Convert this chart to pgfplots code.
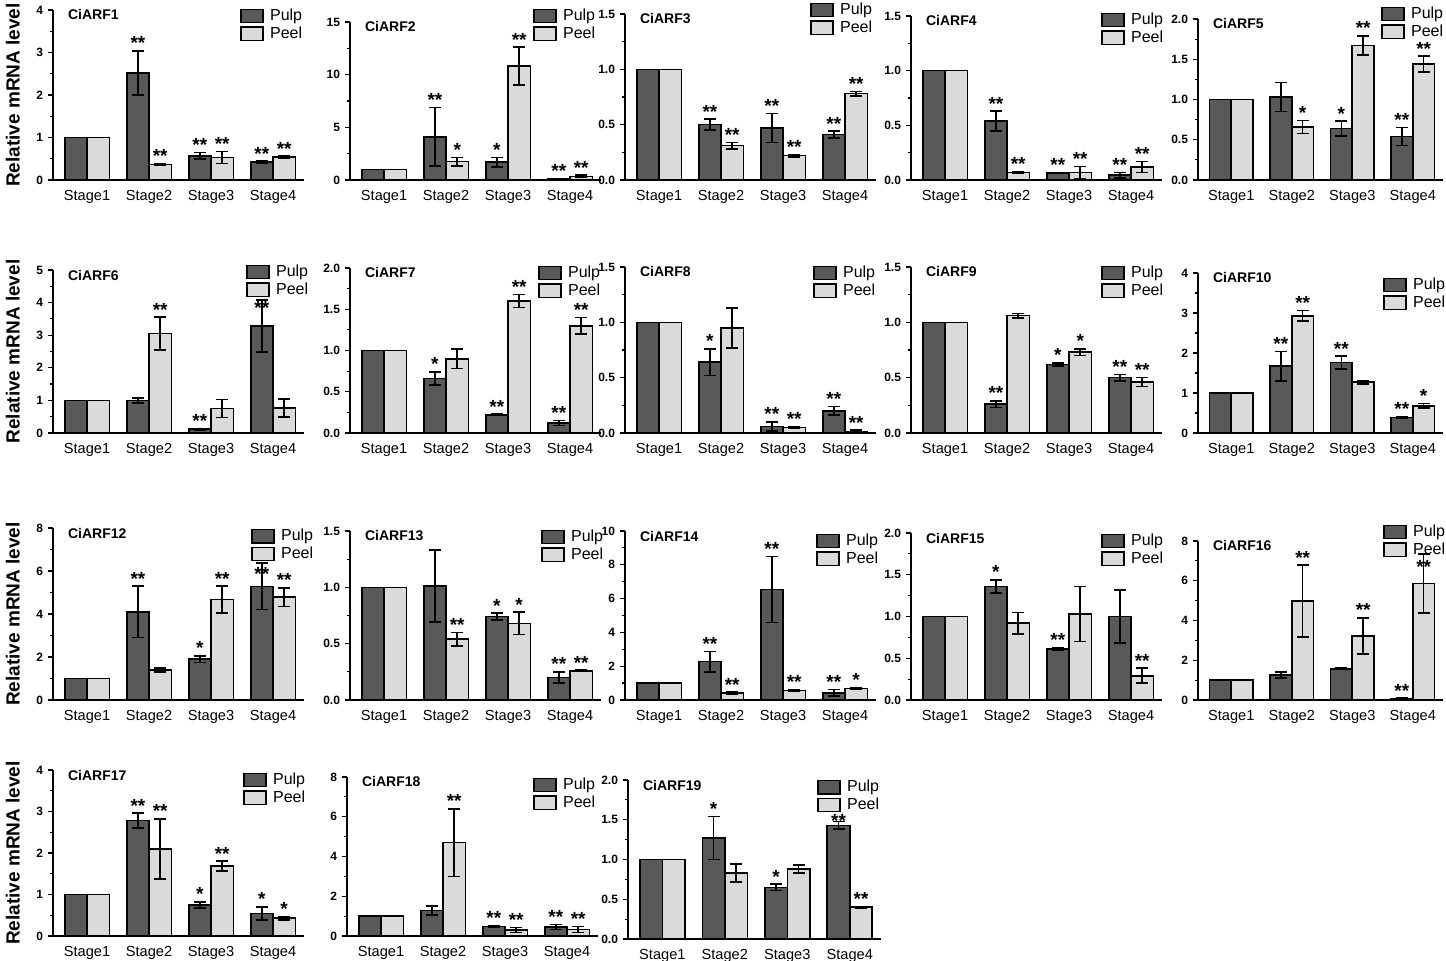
\documentclass[border=0pt]{standalone}
\usepackage{fontspec}
\setmainfont{Liberation Sans}
\setsansfont{Liberation Sans}
\usepackage{pgfplots}
\usepackage{pgfplotstable}
\pgfplotsset{compat=1.18}
\definecolor{pulp}{RGB}{89,89,89}
\definecolor{peel}{RGB}{218,218,218}

% columns: x, pulp, pulp err, peel, peel err, pulp stars, peel stars, star offsets
\pgfplotstableread{
x p pe q qe sp sq dp dq
0 1 0 1 0 {} {} 0 0
1 2.52 0.52 0.36 0.02 ** ** 0 0
2 0.57 0.08 0.53 0.14 ** ** 0 0
3 0.42 0.02 0.54 0.02 ** ** 0 0
}\tA
\pgfplotstableread{
x p pe q qe sp sq dp dq
0 1 0 1 0 {} {} 0 0
1 4.1 2.8 1.75 0.4 ** * 0 0
2 1.7 0.45 10.8 1.8 * ** 0 0
3 0.1 0.02 0.35 0.1 ** ** 0 0
}\tB
\pgfplotstableread{
x p pe q qe sp sq dp dq
0 1 0 1 0 {} {} 0 0
1 0.50 0.05 0.31 0.03 ** ** 0 0
2 0.47 0.13 0.22 0.01 ** ** 0 0
3 0.41 0.03 0.78 0.02 ** ** 0 0
}\tC
\pgfplotstableread{
x p pe q qe sp sq dp dq
0 1 0 1 0 {} {} 0 0
1 0.54 0.09 0.07 0.005 ** ** 0 0
2 0.065 0.005 0.07 0.055 ** ** 0 0
3 0.045 0.025 0.12 0.05 ** ** 0 0
}\tD
\pgfplotstableread{
x p pe q qe sp sq dp dq
0 1 0 1 0 {} {} 0 0
1 1.03 0.18 0.66 0.08 {} * 0 0
2 0.64 0.09 1.67 0.12 * ** 0 0
3 0.54 0.11 1.44 0.10 ** ** 0 0
}\tE
\pgfplotstableread{
x p pe q qe sp sq dp dq
0 1 0 1 0 {} {} 0 0
1 1.0 0.08 3.05 0.5 {} ** 0 0
2 0.12 0.02 0.75 0.28 ** {} 0 0
3 3.28 0.8 0.77 0.28 ** {} -0.49 0
}\tF
\pgfplotstableread{
x p pe q qe sp sq dp dq
0 1 0 1 0 {} {} 0 0
1 0.66 0.08 0.9 0.12 * {} 0 0
2 0.22 0.01 1.6 0.08 ** ** 0 0
3 0.12 0.03 1.3 0.10 ** ** 0 0
}\tG
\pgfplotstableread{
x p pe q qe sp sq dp dq
0 1 0 1 0 {} {} 0 0
1 0.64 0.12 0.95 0.18 * {} 0 0
2 0.06 0.04 0.05 0.01 ** ** 0 0
3 0.20 0.04 0.015 0.01 ** ** 0 0
}\tH
\pgfplotstableread{
x p pe q qe sp sq dp dq
0 1 0 1 0 {} {} 0 0
1 0.26 0.03 1.06 0.02 ** {} 0 0
2 0.62 0.015 0.73 0.03 * * 0 0
3 0.50 0.03 0.46 0.04 ** ** 0 0
}\tI
\pgfplotstableread{
x p pe q qe sp sq dp dq
0 1 0 1 0 {} {} 0 0
1 1.67 0.37 2.93 0.13 ** ** 0 0
2 1.76 0.16 1.27 0.04 ** {} 0 0
3 0.39 0.02 0.68 0.06 ** * 0 0
}\tJ
\pgfplotstableread{
x p pe q qe sp sq dp dq
0 1 0 1 0 {} {} 0 0
1 4.1 1.2 1.4 0.1 ** {} 0 0
2 1.9 0.15 4.68 0.62 * ** 0 0
3 5.28 1.08 4.78 0.44 ** ** -0.83 0
}\tK
\pgfplotstableread{
x p pe q qe sp sq dp dq
0 1 0 1 0 {} {} 0 0
1 1.01 0.32 0.54 0.06 {} ** 0 0
2 0.74 0.03 0.68 0.10 * * 0 0
3 0.20 0.05 0.26 0.005 ** ** 0 0
}\tL
\pgfplotstableread{
x p pe q qe sp sq dp dq
0 1 0 1 0 {} {} 0 0
1 2.27 0.6 0.4 0.07 ** ** 0 0
2 6.53 1.95 0.57 0.05 ** ** 0 0
3 0.42 0.2 0.68 0.03 ** * 0 0
}\tM
\pgfplotstableread{
x p pe q qe sp sq dp dq
0 1 0 1 0 {} {} 0 0
1 1.36 0.08 0.92 0.13 * {} 0 0
2 0.61 0.015 1.03 0.33 ** {} 0 0
3 1.0 0.32 0.29 0.09 {} ** 0 0
}\tN
\pgfplotstableread{
x p pe q qe sp sq dp dq
0 1 0 1 0 {} {} 0 0
1 1.25 0.15 4.98 1.8 {} ** 0 0
2 1.57 0.03 3.22 0.92 {} ** 0 0
3 0.07 0.03 5.86 1.48 ** ** 0 -1.05
}\tO
\pgfplotstableread{
x p pe q qe sp sq dp dq
0 1 0 1 0 {} {} 0 0
1 2.78 0.18 2.1 0.72 ** ** 0 0
2 0.75 0.07 1.68 0.12 * ** 0 0
3 0.54 0.16 0.43 0.04 * * 0 0
}\tP
\pgfplotstableread{
x p pe q qe sp sq dp dq
0 1 0 1 0 {} {} 0 0
1 1.28 0.22 4.7 1.7 {} ** 0 0
2 0.48 0.03 0.3 0.12 ** ** 0 0
3 0.45 0.12 0.32 0.15 ** ** 0 0
}\tQ
\pgfplotstableread{
x p pe q qe sp sq dp dq
0 1 0 1 0 {} {} 0 0
1 1.27 0.27 0.83 0.11 * {} 0 0
2 0.65 0.04 0.88 0.05 * {} 0 0
3 1.43 0.05 0.40 0.01 ** ** -0.085 0
}\tR

\pgfplotsset{
  arf/.style={
    scale only axis, anchor=south west,
    axis x line*=bottom, axis y line*=left,
    axis line style={line width=0.8pt, black},
    xmin=-0.55, xmax=3.5, ymin=0,
    xtick={0,1,2,3}, xticklabels={Stage1,Stage2,Stage3,Stage4},
    xtick style={draw=none},
    x tick label style={font=\fontsize{7.3}{8}\selectfont, yshift=1pt},
    y tick label style={font=\bfseries\fontsize{6}{7}\selectfont, xshift=1pt},
    /pgf/number format/assume math mode=true,
    tick align=outside, major tick length=2.5pt, minor tick length=1.5pt,
    minor y tick num=1,
    ytick style={line width=0.6pt, black},
    every axis title/.style={at={(rel axis cs:0,1)}, anchor=west, xshift=4pt, yshift=-2.5pt,
      font=\bfseries\fontsize{7}{8}\selectfont},
    legend style={at={(1,1)}, anchor=north west, draw=none, fill=none,
      inner sep=0pt, font=\fontsize{8}{9}\selectfont, row sep=0pt,
      nodes={inner sep=0.6pt, text height=6pt, text depth=1.6pt},
      /tikz/every even column/.append style={column sep=1.5pt}},
    legend cell align=left,
    ylabel style={at={(axis description cs:-0.16,0.5)}, anchor=center,
      font=\bfseries\fontsize{9.5}{11}\selectfont},
    clip=false,
  },
  dec/.style={yticklabel style={/pgf/number format/.cd, fixed, fixed zerofill, precision=1}},
  lg/.style 2 args={legend style={xshift=#1pt-1pt, yshift=#2pt}},
  barbase/.style={ybar, bar width=0.36, bar shift=0, draw=black, line width=0.8pt,
    legend image code/.code={\draw[##1, line width=0.7pt] (0pt,-3.3pt) rectangle (11pt,3.3pt);
      \path (13.5pt,0pt);},
    error bars/y dir=both, error bars/y explicit,
    error bars/error bar style={line width=0.8pt, black},
    error bars/error mark options={rotate=90, mark size=3pt, line width=0.8pt, black}},
  pulpbar/.style={barbase, fill=pulp},
  peelbar/.style={barbase, fill=peel},
  stars/.style={draw=none, mark=none, forget plot, nodes near coords,
    point meta=explicit symbolic,
    nodes near coords style={anchor=south, inner sep=0.3pt, font=\bfseries\fontsize{9.5}{10}\selectfont}},
}

\newcommand{\arfplots}[1]{%
  \addplot[pulpbar] table[x expr=\thisrow{x}-0.18, y=p, y error=pe]{#1};
  \addplot[peelbar] table[x expr=\thisrow{x}+0.18, y=q, y error=qe]{#1};
  \addplot[stars] table[x expr=\thisrow{x}-0.18, y expr=\thisrow{p}+\thisrow{pe}+\thisrow{dp}, meta=sp]{#1};
  \addplot[stars] table[x expr=\thisrow{x}+0.18, y expr=\thisrow{q}+\thisrow{qe}+\thisrow{dq}, meta=sq]{#1};
  \legend{Pulp,Peel}
}

\begin{document}
\begin{tikzpicture}
\useasboundingbox (0,0) rectangle (723pt,-480.5pt);

% ---------- Row 1 ----------
\begin{axis}[arf, at={(26.5pt,-90pt)}, width=125.5pt, height=85pt, ymax=4, ytick={0,1,2,3,4},
  title=CiARF1, lg={-31}{1.5}, ylabel={Relative mRNA level}]
\arfplots{\tA}
\end{axis}
\begin{axis}[arf, at={(175pt,-90pt)}, width=125.5pt, height=79pt, ymax=15, ytick={0,5,10,15},
  title=CiARF2, lg={-33}{7.5}]
\arfplots{\tB}
\end{axis}
\begin{axis}[arf, dec, at={(312.5pt,-90pt)}, width=125.5pt, height=83pt, ymax=1.5, ytick={0,0.5,1,1.5},
  title=CiARF3, lg={-32}{6.5}]
\arfplots{\tC}
\end{axis}
\begin{axis}[arf, dec, at={(455.5pt,-90pt)}, width=125.5pt, height=82pt, ymax=1.5, ytick={0,0.5,1,1.5},
  title=CiARF4, lg={-29.5}{2.5}]
\arfplots{\tD}
\end{axis}
\begin{axis}[arf, dec, at={(599pt,-90pt)}, width=122.5pt, height=80.5pt, ymax=2, ytick={0,0.5,1,1.5,2},
  title=CiARF5, lg={-30}{7}]
\arfplots{\tE}
\end{axis}

% ---------- Row 2 ----------
\begin{axis}[arf, at={(26.5pt,-216.5pt)}, width=125.5pt, height=81.5pt, ymax=5, ytick={0,1,2,3,4,5},
  title=CiARF6, lg={-28}{3.5}, ylabel={Relative mRNA level}]
\arfplots{\tF}
\end{axis}
\begin{axis}[arf, dec, at={(175pt,-216.5pt)}, width=125.5pt, height=82.5pt, ymax=2, ytick={0,0.5,1,1.5,2},
  title=CiARF7, lg={-30.5}{2}]
\arfplots{\tG}
\end{axis}
\begin{axis}[arf, dec, at={(312.5pt,-216.5pt)}, width=125.5pt, height=83pt, ymax=1.5, ytick={0,0.5,1,1.5},
  title=CiARF8, lg={-30.5}{1.5}]
\arfplots{\tH}
\end{axis}
\begin{axis}[arf, dec, at={(455.5pt,-216.5pt)}, width=125.5pt, height=83pt, ymax=1.5, ytick={0,0.5,1,1.5},
  title=CiARF9, lg={-29.5}{1.5}]
\arfplots{\tI}
\end{axis}
\begin{axis}[arf, at={(599pt,-216.5pt)}, width=122.5pt, height=80pt, ymax=4, ytick={0,1,2,3,4},
  title=CiARF10, lg={-29}{-1.5}]
\arfplots{\tJ}
\end{axis}

% ---------- Row 3 ----------
\begin{axis}[arf, at={(26.5pt,-350pt)}, width=125.5pt, height=86pt, ymax=8, ytick={0,2,4,6,8},
  title=CiARF12, lg={-25.5}{0.5}, ylabel={Relative mRNA level}]
\arfplots{\tK}
\end{axis}
\begin{axis}[arf, dec, at={(175pt,-350pt)}, width=125.5pt, height=84.5pt, ymax=1.5, ytick={0,0.5,1,1.5},
  title=CiARF13, lg={-29}{1.5}]
\arfplots{\tL}
\end{axis}
\begin{axis}[arf, at={(312.5pt,-350pt)}, width=125.5pt, height=84.5pt, ymax=10, ytick={0,2,4,6,8,10},
  title=CiARF14, lg={-29}{-0.5}]
\arfplots{\tM}
\end{axis}
\begin{axis}[arf, dec, at={(455.5pt,-350pt)}, width=125.5pt, height=83.5pt, ymax=2, ytick={0,0.5,1,1.5,2},
  title=CiARF15, lg={-29.5}{0.5}]
\arfplots{\tN}
\end{axis}
\begin{axis}[arf, at={(599pt,-350pt)}, width=122.5pt, height=79.5pt, ymax=8, ytick={0,2,4,6,8},
  title=CiARF16, lg={-29}{9}]
\arfplots{\tO}
\end{axis}

% ---------- Row 4 ----------
\begin{axis}[arf, at={(26.5pt,-468pt)}, width=125.5pt, height=83pt, ymax=4, ytick={0,1,2,3,4},
  title=CiARF17, lg={-29.5}{-0.5}, ylabel={Relative mRNA level}]
\arfplots{\tP}
\end{axis}
\begin{axis}[arf, at={(173.5pt,-468pt)}, width=125.5pt, height=79.5pt, ymax=8, ytick={0,2,4,6,8},
  title=CiARF18, lg={-31.5}{0.5}]
\arfplots{\tQ}
\end{axis}
\begin{axis}[arf, dec, at={(314pt,-469.5pt)}, width=126.5pt, height=79.5pt, ymax=2, ytick={0,0.5,1,1.5,2},
  title=CiARF19, lg={-31}{1}]
\arfplots{\tR}
\end{axis}
\end{tikzpicture}
\end{document}
